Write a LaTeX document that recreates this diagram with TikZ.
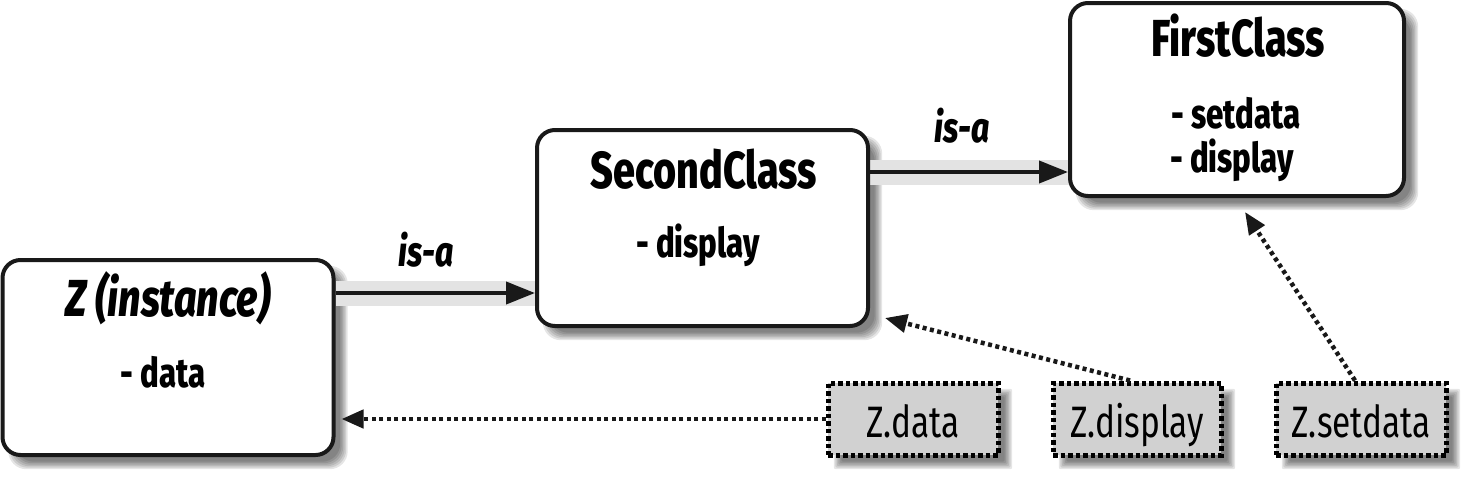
\documentclass[tikz,border=0pt]{standalone}
\usepackage{fontspec}
\IfFontExistsTF{Fira Sans ExtraBold}
  {\setmainfont{Fira Sans}[FakeStretch=0.76, BoldFont={Fira Sans ExtraBold}, BoldItalicFont={Fira Sans ExtraBold Italic}]}
  {\setmainfont{Fira Sans}[FakeStretch=0.76, BoldFeatures={FakeBold=1.5}, BoldItalicFeatures={FakeBold=1.5}]}
\usetikzlibrary{arrows.meta,calc}
\tikzset{
  cls/.style={draw=black!90, line width=4pt, rounded corners=18pt, fill=white, inner sep=0pt},
  attr/.style={draw=black, line width=5pt, dash pattern=on 4.5pt off 3pt, fill=black!18, inner sep=0pt, minimum height=72pt},
  attrtext/.style={font=\fontsize{44}{44}\selectfont, inner sep=0pt, anchor=base},
  title/.style={font=\fontsize{52}{52}\selectfont\bfseries, inner sep=0pt, anchor=base},
  sub/.style={font=\fontsize{41}{41}\selectfont\bfseries, inner sep=0pt, anchor=base},
  isalabel/.style={font=\fontsize{42}{42}\selectfont\bfseries\itshape, inner sep=0pt, anchor=base},
  band/.style={line width=25pt, black!11},
  isa/.style={line width=4pt, black!90, -{Triangle[length=29pt,width=22pt]}},
  dotarrow/.style={line width=4.5pt, black!90, dash pattern=on 4pt off 3.5pt, -{Triangle[length=22pt,width=18pt]}}
}
\newcommand\softshadow[2]{%
  \foreach \e in {0,1.5,...,7.5}{%
    \fill[black,opacity=0.1,rounded corners=#2] ($(#1.north west)+(6+\e,6+\e)$) rectangle ($(#1.south east)+(14-\e,14-\e)$);}}
\begin{document}
\begin{tikzpicture}[x=1pt,y=-1pt]
\fill[white] (0,0) rectangle (1466,480);
\useasboundingbox (0,0) rectangle (1466,480);

% box outlines used for the shadows
\path (168,357.5) node[minimum width=331pt, minimum height=195pt, inner sep=0pt] (zs) {};
\path (702.5,228) node[minimum width=331pt, minimum height=196pt, inner sep=0pt] (ss) {};
\path (1237,99.5) node[minimum width=334pt, minimum height=193pt, inner sep=0pt] (fs) {};
\path (913,419) node[minimum width=170pt, minimum height=72pt, inner sep=0pt] (ads) {};
\path (1137,419) node[minimum width=168pt, minimum height=72pt, inner sep=0pt] (aps) {};
\path (1361,419) node[minimum width=170pt, minimum height=72pt, inner sep=0pt] (ass) {};
\softshadow{zs}{18pt}
\softshadow{ss}{18pt}
\softshadow{fs}{18pt}
\softshadow{ads}{2pt}
\softshadow{aps}{2pt}
\softshadow{ass}{2pt}

% is-a bands
\coordinate (a1) at ($(zs.east)+(2,-64.5)$);
\coordinate (a2) at ($(ss.east)+(2,-56)$);
\draw[band] (a1) -- (a1 -| ss.west);
\draw[band] (a2) -- (a2 -| fs.west);

% class boxes
\node[cls, minimum width=331pt, minimum height=195pt] (z) at (zs) {};
\node[cls, minimum width=331pt, minimum height=196pt] (second) at (ss) {};
\node[cls, minimum width=334pt, minimum height=193pt] (first) at (fs) {};

\node[title] (zt) at (168,316) {\itshape Z (instance)};
\node[sub] (zd) at (163,387) {- data};
\node[title] (st) at (704,188) {SecondClass};
\node[sub] (sd) at (698,257) {- display};
\node[title] (ft) at (1238,56) {FirstClass};
\node[sub] (fsd) at (1236,128) {- setdata};
\node[sub] (fdd) at (1232,172) {- display};

% is-a arrows
\draw[isa] (a1) -- (a1 -| second.west);
\draw[isa] (a2) -- (a2 -| first.west);
\node[isalabel] (l1) at (426,266) {is-a};
\node[isalabel] (l2) at (962,142) {is-a};

% attribute boxes
\node[attr, minimum width=170pt] (zdata) at (ads) {};
\node[attr, minimum width=168pt] (zdisp) at (aps) {};
\node[attr, minimum width=170pt] (zset) at (ass) {};
\node[attrtext] at (913,437) {Z.data};
\node[attrtext] at (1137,437) {Z.display};
\node[attrtext] at (1361,437) {Z.setdata};

% dotted arrows
\draw[dotarrow] (zdata.west) -- ($(z.east |- zdata.west)+(6,0)$);
\draw[dotarrow] ($(zdisp.north)+(-7,0)$) -- ($(second.south east)+(15,-10)$);
\draw[dotarrow] ($(zset.north)+(-6,0)$) -- ($(first.south)+(8,14)$);
\end{tikzpicture}
\end{document}
